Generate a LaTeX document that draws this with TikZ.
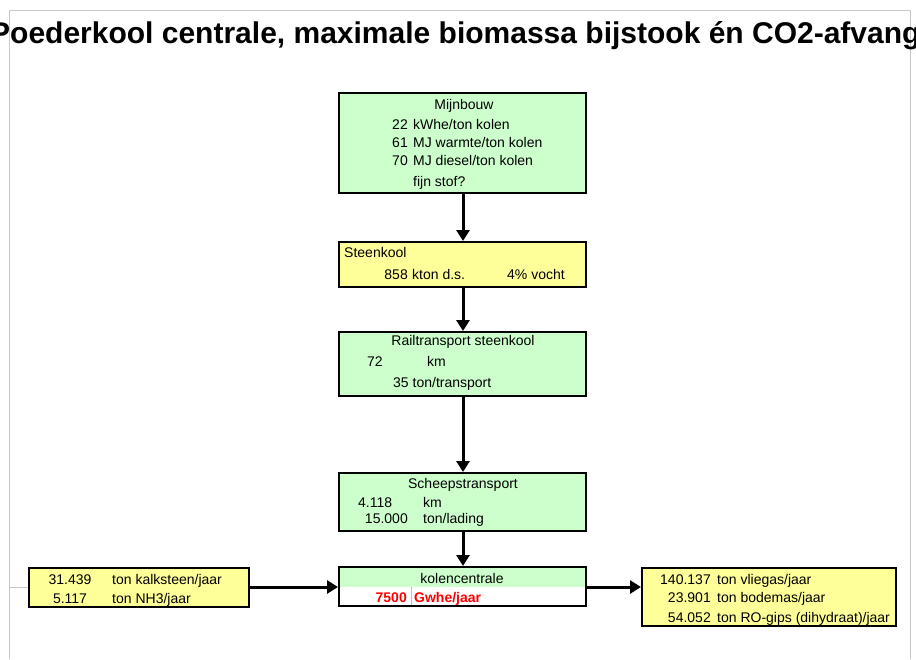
\documentclass[tikz,border=0pt]{standalone}
\usepackage{fontspec}
\setmainfont{Liberation Sans}
\usetikzlibrary{arrows.meta,calc}
\definecolor{boxgreen}{HTML}{CCFFCC}
\definecolor{boxyellow}{HTML}{FFFF99}
\definecolor{framegray}{HTML}{C8C8C8}
\definecolor{sepgray}{HTML}{C0C0C0}
\definecolor{outred}{HTML}{FF0000}
\begin{document}
\begin{tikzpicture}[x=1pt,y=-1pt,
  box/.style={draw=black,line width=2pt,inner sep=0pt,rectangle},
  greenbox/.style={box,fill=boxgreen},
  yellowbox/.style={box,fill=boxyellow},
  txt/.style={inner sep=0pt,font=\fontsize{14}{16}\selectfont},
  lt/.style={txt,anchor=base west},
  rt/.style={txt,anchor=base east},
  ct/.style={txt,anchor=base},
  flow/.style={line width=3pt,-{Triangle[length=11pt,width=13pt]}},
  frame/.style={draw=framegray,line width=1pt}]
\useasboundingbox (0,0) rectangle (916,659);
\fill[white] (0,0) rectangle (916,659);
\begin{scope}
\clip (0,0) rectangle (916,659);

% sheet frame
\draw[frame] (9.5,659) -- (9.5,10.5) -- (910.5,10.5) -- (910.5,659);

% title, wider than the sheet and cut at both sides
\node[inner sep=0pt,anchor=base west,font=\fontsize{30}{34}\selectfont\bfseries]
  (title) at (-10,43) {Poederkool centrale, maximale biomassa bijstook én CO2-afvang};

% process boxes
\node[greenbox,minimum width=247pt,minimum height=100pt] (mijn) at (462.5,143) {};
\node[yellowbox,minimum width=247pt,minimum height=45pt] (steen) at (462.5,264.5) {};
\node[greenbox,minimum width=247pt,minimum height=64pt] (rail) at (462.5,364) {};
\node[greenbox,minimum width=247pt,minimum height=58pt] (schip) at (462.5,502) {};
\node[box,fill=white,minimum width=247pt,minimum height=39pt,
  path picture={
    \fill[boxgreen] (path picture bounding box.north west) rectangle (path picture bounding box.east);
    \draw[sepgray,line width=1pt]
      ($(path picture bounding box.west)+(72,0)$) -- ($(path picture bounding box.south west)+(72,0)$);
  }] (kolen) at (462.5,586.5) {};
\node[yellowbox,minimum width=220pt,minimum height=39pt] (inkoop) at (139,587) {};
\node[yellowbox,minimum width=254pt,minimum height=58pt] (rest) at (769,597) {};

% grid stub to the input box
\draw[frame] (9.5,587) -- (inkoop.west);

% Mijnbouw
\node[ct] at (464,109) {Mijnbouw};
\node[rt] at (408,129) {22};
\node[lt] at (413,129) {kWhe/ton kolen};
\node[rt] at (408,147) {61};
\node[lt] at (413,147) {MJ warmte/ton kolen};
\node[rt] at (408,165) {70};
\node[lt] at (413,165) {MJ diesel/ton kolen};
\node[lt] at (413,186) {fijn stof?};

% Steenkool
\node[lt] at (344,257) {Steenkool};
\node[rt] at (408,279) {858};
\node[lt] at (412,279) {kton d.s.};
\node[lt] at (507,279) {4\% vocht};

% Railtransport
\node[ct] at (463,345) {Railtransport steenkool};
\node[lt] at (367,366) {72};
\node[lt] at (427,366) {km};
\node[lt] at (393,387) {35 ton/transport};

% Scheepstransport
\node[ct] at (463,488) {Scheepstransport};
\node[lt] at (358,507) {4.118};
\node[lt] at (423,507) {km};
\node[rt] at (408,523) {15.000};
\node[lt] at (423,523) {ton/lading};

% kolencentrale
\node[ct] at (462,583) {kolencentrale};
\node[rt,text=outred,font=\fontsize{14}{16}\selectfont\bfseries] at (407,602) {7500};
\node[lt,text=outred,font=\fontsize{14}{16}\selectfont\bfseries] at (414,602) {Gwhe/jaar};

% inputs
\node[ct] at (70,584) {31.439};
\node[lt] at (112,584) {ton kalksteen/jaar};
\node[ct] at (70,603) {5.117};
\node[lt] at (112,603) {ton NH3/jaar};

% residues
\node[rt] at (711,584) {140.137};
\node[lt] at (717,584) {ton vliegas/jaar};
\node[rt] at (711,602) {23.901};
\node[lt] at (717,602) {ton bodemas/jaar};
\node[rt] at (711,622) {54.052};
\node[lt] at (717,622) {ton RO-gips (dihydraat)/jaar};

% flows
\draw[flow] (mijn.south -| 463,0) -- (steen.north -| 463,0);
\draw[flow] (steen.south -| 463,0) -- (rail.north -| 463,0);
\draw[flow] (rail.south -| 463,0) -- (schip.north -| 463,0);
\draw[flow] (schip.south -| 463,0) -- (kolen.north -| 463,0);
\draw[flow] (inkoop.east) -- (kolen.west |- inkoop.east);
\draw[flow] (kolen.east |- inkoop.east) -- (rest.west |- inkoop.east);
\end{scope}
\end{tikzpicture}
\end{document}
